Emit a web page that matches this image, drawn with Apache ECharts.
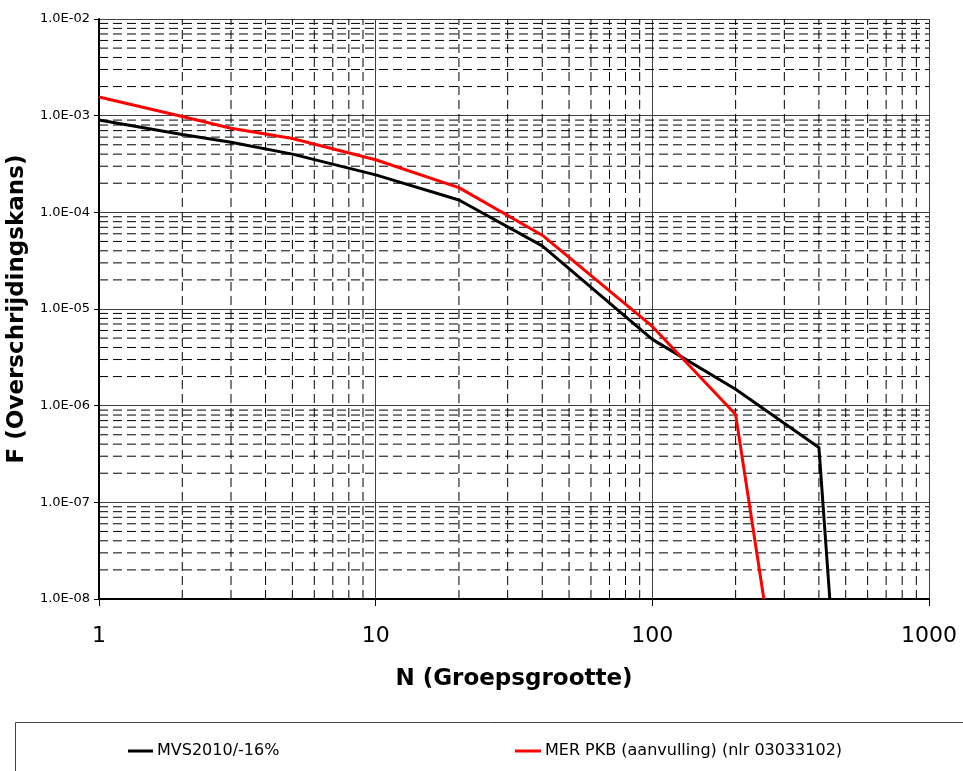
<!DOCTYPE html>
<html>
<head>
<meta charset="utf-8">
<script src="https://cdn.jsdelivr.net/npm/echarts@6/dist/echarts.min.js"></script>
<style>
html, body { margin: 0; padding: 0; background: #fff; }
#chart { width: 963px; height: 771px; }
</style>
</head>
<body>
<div id="chart"></div>
<script>
// data
var blackName = 'MVS2010/-16%';
var blackN = [1, 2, 3, 5, 10, 20, 40, 100, 200, 400, 438];
var blackF = [9.0e-4, 6.4e-4, 5.3e-4, 4.0e-4, 2.44e-4, 1.34e-4, 4.5e-5, 4.85e-6, 1.48e-6, 3.7e-7, 1e-8];
var redName = 'MER PKB (aanvulling) (nlr 03033102)';
var redN = [1, 2, 3, 5, 10, 20, 40, 100, 200, 253];
var redF = [1.56e-3, 9.8e-4, 7.4e-4, 5.8e-4, 3.5e-4, 1.8e-4, 5.8e-5, 6.6e-6, 8.1e-7, 1e-8];

var xMin = 1, xMax = 1000;
var yMin = 1e-8, yMax = 1e-2;

// minor grid positions (2..9 per decade)
var minorX = [];
var minorY = [];
[1, 10, 100].forEach(function (d) {
    for (var k = 2; k <= 9; k++) minorX.push(k * d);
});
[1e-8, 1e-7, 1e-6, 1e-5, 1e-4, 1e-3].forEach(function (d) {
    for (var k = 2; k <= 9; k++) minorY.push(k * d);
});

function pairs(xs, ys) {
    return xs.map(function (x, i) { return [x, ys[i]]; });
}

function sciLabel(v) {
    var e = Math.round(Math.log(v) / Math.LN10);
    var a = Math.abs(e);
    return '1.0E' + (e < 0 ? '-' : '+') + (a < 10 ? '0' + a : a);
}

var chart = echarts.init(document.getElementById('chart'));

// dashed minor grid drawn as plain line series
var gridSeries = [];
minorX.forEach(function (v) {
    gridSeries.push({
        type: 'line', silent: true, symbol: 'none', z: 1,
        data: [[v, yMin], [v, yMax]],
        lineStyle: { color: '#000', width: 1, type: [9, 5] },
        emphasis: { disabled: true }
    });
});
minorY.forEach(function (v) {
    gridSeries.push({
        type: 'line', silent: true, symbol: 'none', z: 1,
        data: [[xMin, v], [xMax, v]],
        lineStyle: { color: '#000', width: 1, type: [9, 5] },
        emphasis: { disabled: true }
    });
});

var option = {
    animation: false,
    backgroundColor: '#fff',
    grid: { left: 99, top: 19, right: 34, bottom: 172, outerBoundsMode: 'none', containLabel: false },
    xAxis: {
        type: 'log',
        logBase: 10,
        min: xMin,
        max: xMax,
        name: 'N (Groepsgrootte)',
        nameLocation: 'middle',
        nameGap: 69,
        nameTextStyle: { fontFamily: 'DejaVu Sans', fontWeight: 'bold', fontSize: 23, color: '#000' },
        axisLine: { show: true, lineStyle: { color: '#000', width: 2 } },
        axisTick: { show: true, length: 7, lineStyle: { color: '#000', width: 1 } },
        axisLabel: {
            fontFamily: 'DejaVu Sans', fontSize: 22, color: '#000', margin: 26,
            formatter: function (v) { return String(Math.round(v)); }
        },
        splitLine: { show: true, lineStyle: { color: '#404040', width: 1 } }
    },
    yAxis: {
        type: 'log',
        logBase: 10,
        min: yMin,
        max: yMax,
        name: 'F (Overschrijdingskans)',
        nameLocation: 'middle',
        nameGap: 67,
        nameTextStyle: { fontFamily: 'DejaVu Sans', fontWeight: 'bold', fontSize: 23, color: '#000' },
        axisLine: { show: true, lineStyle: { color: '#000', width: 2 } },
        axisTick: { show: true, length: 5, lineStyle: { color: '#000', width: 1 } },
        axisLabel: {
            fontFamily: 'DejaVu Sans', fontSize: 13, color: '#000', margin: 9,
            formatter: sciLabel
        },
        splitLine: { show: true, lineStyle: { color: '#404040', width: 1 } }
    },
    legend: [{
        data: [blackName],
        left: 128, top: 743,
        icon: 'rect', itemWidth: 25, itemHeight: 3, itemGap: 0,
        padding: 0,
        textStyle: { fontFamily: 'DejaVu Sans', fontSize: 16, color: '#000', padding: [0, 0, 0, -1] }
    }, {
        data: [redName],
        left: 515, top: 743,
        icon: 'rect', itemWidth: 26, itemHeight: 3, itemGap: 0,
        padding: 0,
        textStyle: { fontFamily: 'DejaVu Sans', fontSize: 16, color: '#000', padding: [0, 0, 0, -1] }
    }],
    graphic: [{
        type: 'rect',
        silent: true,
        shape: { x: 15.5, y: 722.5, width: 1000, height: 100 },
        style: { fill: 'none', stroke: '#444', lineWidth: 1 }
    }],
    series: gridSeries.concat([{
        name: blackName,
        type: 'line',
        data: pairs(blackN, blackF),
        showSymbol: false,
        symbol: 'none',
        z: 3,
        color: '#000',
        lineStyle: { color: '#000', width: 3 }
    }, {
        name: redName,
        type: 'line',
        data: pairs(redN, redF),
        showSymbol: false,
        symbol: 'none',
        z: 4,
        color: '#ff0000',
        lineStyle: { color: '#ff0000', width: 3 }
    }])
};

chart.setOption(option);
</script>
</body>
</html>
